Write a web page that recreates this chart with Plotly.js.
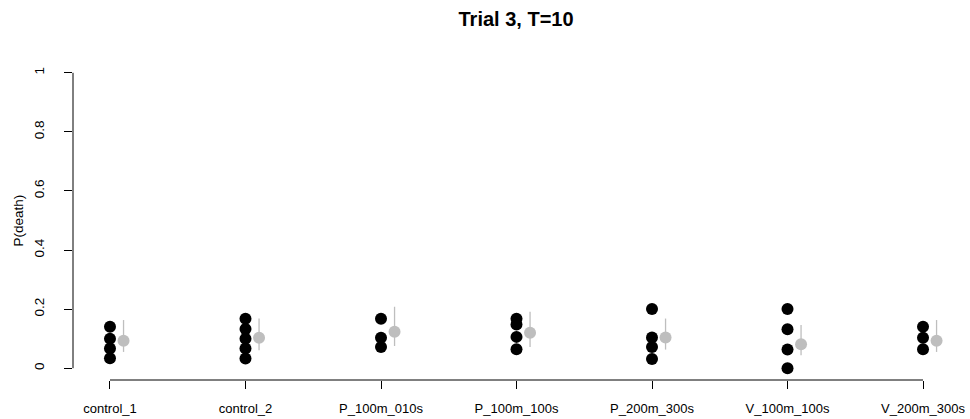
<!DOCTYPE html>
<html>
<head>
<meta charset="utf-8">
<script src="https://cdn.plot.ly/plotly-3.0.1.min.js"></script>
<style>html,body{margin:0;padding:0;background:#fff;}#chart{width:970px;height:419px;}</style>
</head>
<body>
<div id="chart"></div>
<script>
// Categories (x tick labels)
var categories = ['control_1','control_2','P_100m_010s','P_100m_100s','P_200m_300s','V_100m_100s','V_200m_300s'];
// Replicate P(death) values per category (black dots)
var control_1   = [0.034, 0.067, 0.100, 0.140];
var control_2   = [0.033, 0.067, 0.100, 0.133, 0.167];
var P_100m_010s = [0.167, 0.103, 0.072];
var P_100m_100s = [0.167, 0.148, 0.106, 0.064];
var P_200m_300s = [0.200, 0.104, 0.072, 0.031];
var V_100m_100s = [0.200, 0.132, 0.063, 0.000];
var V_200m_300s = [0.140, 0.103, 0.064];
// Estimated mean and interval (grey)
var means = [0.093, 0.103, 0.123, 0.120, 0.104, 0.081, 0.093];
var lower = [0.055, 0.061, 0.075, 0.072, 0.063, 0.044, 0.055];
var upper = [0.163, 0.168, 0.208, 0.191, 0.168, 0.146, 0.163];
var yTicks = [0, 0.2, 0.4, 0.6, 0.8, 1];
var yTickText = ['0', '0.2', '0.4', '0.6', '0.8', '1'];

var groups = [control_1, control_2, P_100m_010s, P_100m_100s, P_200m_300s, V_100m_100s, V_200m_300s];
var bx = [], by = [];
groups.forEach(function(g, i){ g.forEach(function(v){ bx.push(i + 1); by.push(v); }); });
var pos = categories.map(function(c, i){ return i + 1; });
var offset = 0.1;
var gx = pos.map(function(p){ return p + offset; });

var font = 'Liberation Sans, Arial, Helvetica, sans-serif';

var traces = [
  {
    type: 'scatter', mode: 'markers', x: bx, y: by,
    marker: {color: '#000000', size: 12}, hoverinfo: 'y', showlegend: false
  },
  {
    type: 'scatter', mode: 'markers', x: gx, y: means,
    marker: {color: '#BEBEBE', size: 12},
    error_y: {
      type: 'data', symmetric: false,
      array: upper.map(function(u, i){ return u - means[i]; }),
      arrayminus: lower.map(function(l, i){ return means[i] - l; }),
      color: '#BEBEBE', thickness: 1.3, width: 0
    },
    hoverinfo: 'y', showlegend: false
  }
];

var layout = {
  width: 970, height: 419,
  margin: {l: 73, r: 10, t: 61, b: 39},
  paper_bgcolor: '#ffffff', plot_bgcolor: '#ffffff',
  font: {family: font, color: '#000000', size: 13},
  title: {text: '<b>Trial 3, T=10</b>', font: {family: font, size: 20, color: '#000'}, x: 0.532, xanchor: 'center', y: 0.955, yanchor: 'middle'},
  xaxis: {
    range: [0.727, 7.273], showgrid: false, zeroline: false, showline: false,
    tickmode: 'array', tickvals: pos, ticktext: categories,
    ticks: 'outside', ticklen: 8, tickcolor: '#000', tickwidth: 1,
    tickfont: {family: font, size: 13, color: '#000'},
    ticklabelstandoff: 8, fixedrange: true
  },
  yaxis: {
    range: [-0.04, 1.04], showgrid: false, zeroline: false, showline: false,
    tickmode: 'array', tickvals: yTicks, ticktext: yTickText,
    ticks: 'outside', ticklen: 8, tickcolor: '#000', tickwidth: 1,
    tickangle: -90, tickfont: {family: font, size: 13.5, color: '#000'},
    ticklabelstandoff: 15,
    fixedrange: true
  },
  annotations: [
    {text: 'P(death)', xref: 'paper', yref: 'y', x: -0.062, y: 0.5, xanchor: 'center', yanchor: 'middle',
     textangle: -90, showarrow: false, font: {family: font, size: 13.5, color: '#000'}}
  ],
  shapes: [
    {type: 'line', xref: 'x', yref: 'paper', x0: pos[0], x1: pos[pos.length - 1], y0: 0, y1: 0, line: {color: '#000', width: 1}},
    {type: 'line', xref: 'paper', yref: 'y', x0: 0, x1: 0, y0: yTicks[0], y1: yTicks[yTicks.length - 1], line: {color: '#000', width: 1}}
  ]
};

Plotly.newPlot('chart', traces, layout, {displayModeBar: false, staticPlot: true});
</script>
</body>
</html>
